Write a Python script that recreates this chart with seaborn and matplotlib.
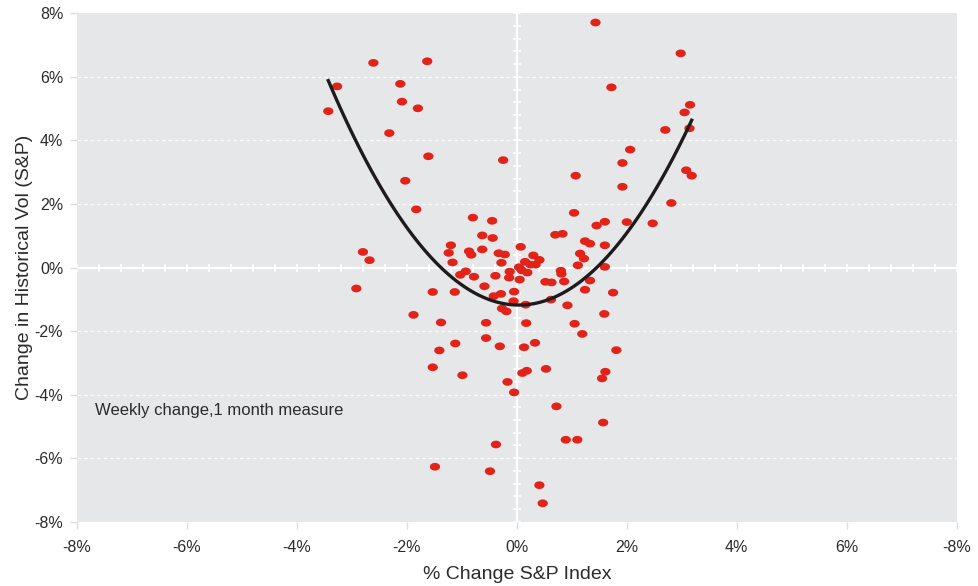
import numpy as np
import pandas as pd
import matplotlib
matplotlib.use("Agg")
import matplotlib.pyplot as plt
import matplotlib.path as mpath
import seaborn as sns

# --- data (percent) ---
sp_change = [
    1.43, -2.61, -1.63, 2.98, -3.27, -2.12, 1.72, -3.43, -2.09, -1.80,
    3.15, 3.05, -2.32, 3.14, 2.70, 2.06, 1.92, -1.61, -0.25, 3.08,
    3.18, 1.07, -2.03, 1.92, 2.81, -1.83,
    -0.80, -0.45, 1.04, 1.60, 1.45, 2.00, 2.47, -0.63, -0.44, 0.70,
    0.83, 1.24, 1.33, 1.60, -1.20, 0.07, -2.80, -2.68, -1.24, -0.87,
    -0.83, -0.63, -0.33, -0.22, 1.15, 1.22, 0.30, 0.41, -1.17, -0.28,
    0.15, 0.25, 0.34, 1.11, 0.04, 1.60, -0.13, 0.19, 0.09, -0.93,
    -1.03, -0.78, -0.39, -0.14, 0.05, 0.80, 0.81, 0.52, 0.63, 0.86,
    1.33, -2.92, -1.53, -1.13, -0.59, -0.42, -0.29, -0.05, -0.06, 1.24,
    1.75, 0.62, 0.16, 0.92, -0.27, -0.19, -1.88, 1.59, -1.38, -0.56,
    0.17, 1.05, 1.19, -0.56, -1.12, -0.31, 0.13, 0.33, -1.41, 1.81,
    -1.53, -0.99, 0.10, 0.18, 0.53, 1.61, 1.55, -0.17, -0.05, 0.72,
    1.57, 0.89, 1.10, -0.38, -1.49, -0.49, 0.41, 0.47,
]
vol_change = [
    7.71, 6.44, 6.49, 6.74, 5.70, 5.78, 5.67, 4.92, 5.22, 5.01,
    5.12, 4.88, 4.23, 4.38, 4.33, 3.71, 3.29, 3.50, 3.38, 3.06,
    2.89, 2.89, 2.73, 2.54, 2.03, 1.83,
    1.57, 1.47, 1.72, 1.44, 1.32, 1.43, 1.39, 1.01, 0.93, 1.03,
    1.06, 0.83, 0.75, 0.70, 0.70, 0.65, 0.49, 0.23, 0.46, 0.51,
    0.40, 0.57, 0.45, 0.41, 0.44, 0.28, 0.38, 0.24, 0.16, 0.15,
    0.18, 0.09, 0.09, 0.07, 0.01, 0.02, -0.13, -0.16, -0.09, -0.12,
    -0.23, -0.29, -0.26, -0.32, -0.38, -0.10, -0.20, -0.45, -0.47, -0.44,
    -0.41, -0.66, -0.77, -0.77, -0.59, -0.90, -0.83, -0.76, -1.06, -0.70,
    -0.79, -1.01, -1.17, -1.19, -1.29, -1.38, -1.49, -1.46, -1.73, -1.74,
    -1.75, -1.77, -2.09, -2.22, -2.39, -2.48, -2.51, -2.37, -2.61, -2.60,
    -3.14, -3.39, -3.32, -3.25, -3.19, -3.28, -3.49, -3.60, -3.93, -4.37,
    -4.88, -5.42, -5.42, -5.57, -6.27, -6.41, -6.85, -7.42,
]
x_ticks = [-8, -6, -4, -2, 0, 2, 4, 6, 8]
x_tick_labels = ["-8%", "-6%", "-4%", "-2%", "0%", "2%", "4%", "6%", "-8%"]
y_ticks = [-8, -6, -4, -2, 0, 2, 4, 6, 8]
y_tick_labels = ["-8%", "-6%", "-4%", "-2%", "0%", "2%", "4%", "6%", "8%"]

df = pd.DataFrame({"sp": sp_change, "vol": vol_change})

plt.rcParams["font.family"] = ["Liberation Sans", "DejaVu Sans"]
text_color = "#2b2b2b"

fig = plt.figure(figsize=(9.79, 5.86), dpi=100)
ax = fig.add_axes([0.0787, 0.1097, 0.8985, 0.8676])
ax.set_facecolor("#e6e7e8")
for s in ax.spines.values():
    s.set_visible(False)

# dashed horizontal gridlines
for yv in [-6, -4, -2, 2, 4, 6]:
    ax.axhline(yv, color="white", lw=0.9, ls=(0, (3, 2.2)), alpha=0.85, zorder=1)
# zero axes
ax.axhline(0, color="white", lw=1.6, zorder=1)
ax.axvline(0, color="white", lw=1.6, zorder=1)
minor = np.arange(-8, 8.01, 0.4)
ax.scatter(minor, np.zeros_like(minor), marker="|", s=30, color="white", lw=1.2, zorder=1)
ax.scatter(np.zeros_like(minor), minor, marker="_", s=30, color="white", lw=1.2, zorder=1)

# ellipse marker
t = np.linspace(0, 2 * np.pi, 40)
ell = mpath.Path(np.column_stack([np.cos(t), 0.75 * np.sin(t)]), closed=True)

sns.scatterplot(data=df, x="sp", y="vol", ax=ax, marker=ell, s=55,
                color="#e2231a", edgecolor="none", zorder=3)
sns.regplot(data=df, x="sp", y="vol", ax=ax, order=2, ci=None, scatter=False,
            line_kws={"color": "#1f1b1c", "lw": 2.4, "zorder": 4})

ax.set_xlim(-8, 8)
ax.set_ylim(-8, 8)
ax.set_xticks(x_ticks)
ax.set_xticklabels(x_tick_labels)
ax.set_yticks(y_ticks)
ax.set_yticklabels(y_tick_labels)
ax.tick_params(axis="both", colors="#dcdcdc", length=5, width=1, labelsize=11.5,
               labelcolor=text_color)
ax.tick_params(axis="x", pad=8)
ax.tick_params(axis="y", pad=5)
ax.set_xlabel("% Change S&P Index", fontsize=14, color=text_color, labelpad=8)
ax.set_ylabel("Change in Historical Vol (S&P)", fontsize=14, color=text_color, labelpad=1)

ax.text(-7.67, -4.5, "Weekly change,1 month measure", fontsize=12,
        color=text_color, va="center", ha="left")

fig.savefig("out.png", dpi=100)
